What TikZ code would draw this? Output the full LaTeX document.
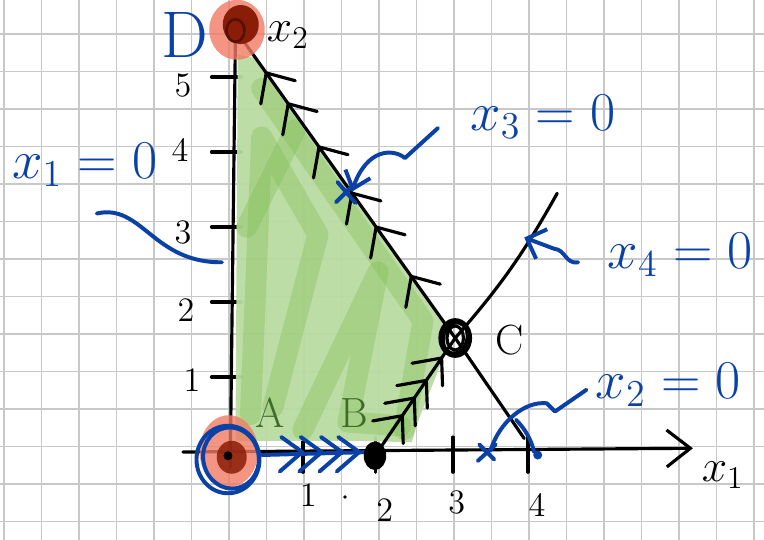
\documentclass[tikz,border=0pt]{standalone}
\usepackage{amsmath}
\usepackage{xcolor}
\definecolor{penblue}{HTML}{0A41A6}
\definecolor{gridgray}{HTML}{C8C8C8}
\definecolor{leaf}{HTML}{BADCA2}
\definecolor{leafdark}{HTML}{7DBD4F}
\definecolor{salmon}{HTML}{F27A64}
\definecolor{rust}{HTML}{8A1D07}
\definecolor{labelgreen}{HTML}{3F6B2A}
\usepackage{tikz}
\usetikzlibrary{arrows.meta,calc}

\begin{document}
\begin{tikzpicture}[>={Straight Barb[length=9pt,width=14pt]},
    pen/.style={line width=1.2pt,line cap=round,line join=round},
    bluepen/.style={pen,penblue,line width=1.5pt},
    brush/.style={leafdark,opacity=0.35,line width=8pt,line cap=round,line join=round},
    num/.style={font=\fontsize{13}{13}\selectfont},
    eqlabel/.style={penblue,font=\fontsize{21}{21}\selectfont},
    ptlabel/.style={font=\fontsize{16}{16}\selectfont}]
    % paper
    \useasboundingbox (-3.04,-1.16) rectangle (7.147,6.027);
    \clip (-3.04,-1.16) rectangle (7.147,6.027);
    \fill[white] (-3.04,-1.16) rectangle (7.147,6.027);
    \draw[gridgray,line width=0.7pt,shift={(0.013,0.073)}] (-3.5,-1.5) grid[step=0.5] (7.5,6.5);

    % corners of the region
    \coordinate (A) at (0,0);
    \coordinate (B) at (1.96,-0.05);
    \coordinate (C) at (3.03,1.52);
    \coordinate (D) at (0.1,5.63);
    \coordinate (x3end) at (3.95,0.18);
    \coordinate (x4end) at (4.39,3.45);

    % ticks
    \foreach \u in {1.0,1.97,3.0,4.0} \draw[pen] (\u,0.2) -- (\u,-0.27);
    \foreach \v in {1,...,5} \draw[pen] (-0.22,\v) -- (0.18,\v);

    % feasible region
    \fill[leaf,opacity=0.95] (0.1,0.15) -- (0.13,5.3) -- (0.38,5.25) -- (2.9,1.7) -- (2.92,1.38)
         -- (2.55,0.45) -- (2.45,0.13) -- (1.7,0.15) -- cycle;
    \draw[brush] (0.45,4.85) -- (2.6,1.75) -- (2.35,0.3);
    \draw[brush] (0.3,0.5) -- (0.45,4.2) -- (1.2,2.9) -- (0.6,0.6);
    \draw[brush] (1.0,0.3) -- (2.0,2.4) -- (1.6,0.4) -- (2.3,0.35);
    \draw[brush] (0.25,3.0) -- (0.9,4.3);

    % axes and constraint lines
    \coordinate (x1start) at (-0.6,0);
    \coordinate (x1tip) at (6.2,0.05);
    \coordinate (x2foot) at (0.03,-0.2);
    \draw[pen,->] (x1start) -- (x1tip);
    \draw[pen] (x2foot) -- (D);
    \draw[pen] (D) -- (C) -- (x3end);
    \draw[pen] (B) -- (C) to[bend right=6] (x4end);

    % direction marks
    \foreach \t in {0.14,0.24,0.38,0.53,0.64,0.8}
      \draw[pen] ($(D)!\t!(C)$) ++(-100:0.42) -- ++(80:0.42) -- ++(-15:0.4);
    \foreach \t in {0.34,0.49,0.64,0.83}
      \draw[pen] ($(B)!\t!(C)$) ++(190:0.4) -- ++(10:0.4) -- ++(272:0.37);
    \draw[bluepen] (0.45,-0.04) -- (1.9,0);
    \foreach \u in {0.99,1.25,1.52,1.75}
      \draw[bluepen] (\u,0) ++(-0.28,0.2) -- ++(0.28,-0.2) -- ++(-0.3,-0.26);

    % vertices
    \fill[salmon,opacity=0.8] (0.12,5.63) ellipse (0.37 and 0.4);
    \fill[rust] (0.17,5.7) ellipse (0.24 and 0.26);
    \draw[rust!60!black,line width=1pt] (0.1,5.62) ellipse (0.12 and 0.15);
    \fill[salmon,opacity=0.8] (0.01,0.01) ellipse (0.39 and 0.48);
    \fill[rust,opacity=0.85] (0.05,-0.07) ellipse (0.2 and 0.22);
    \fill (0.0,-0.05) circle (0.06);
    \draw[bluepen] (0.0,-0.1) ellipse (0.42 and 0.45);
    \draw[bluepen,rotate around={12:(0.04,-0.08)}] (0.04,-0.08) ellipse (0.37 and 0.41);
    \draw[pen,line width=1.4pt] (C) ellipse (0.2 and 0.24);
    \draw[pen,line width=1.4pt,rotate around={-15:(C)}] (C) ellipse (0.16 and 0.21);
    \draw[pen] (C) ellipse (0.11 and 0.16);
    \fill (B) ellipse (0.15 and 0.19);

    % axis numbers
    \node[num] (n1) at (1.07,-0.57) {1};
    \fill (1.56,-0.6) circle (0.025);
    \node[num] (n2) at (2.09,-0.77) {2};
    \node[num] (n3) at (3.05,-0.67) {3};
    \node[num] (n4) at (4.12,-0.71) {4};
    \node[num] (m1) at (-0.48,0.96) {1};
    \node[num] (m2) at (-0.56,1.89) {2};
    \node[num] (m3) at (-0.6,2.93) {3};
    \node[num] (m4) at (-0.64,4.03) {4};
    \node[num] (m5) at (-0.6,4.89) {5};
    \node[font=\fontsize{18}{18}\selectfont] (xtwo) at (0.8,5.56) {$x_2$};
    \node[font=\fontsize{18}{18}\selectfont] (xone) at (6.6,-0.31) {$x_1$};

    % vertex names
    \node[penblue,font=\fontsize{25}{25}\selectfont] (labD) at (-0.57,5.56) {D};
    \node[ptlabel] (labC) at (3.76,1.49) {C};
    \node[ptlabel,labelgreen] (labA) at (0.56,0.52) {A};
    \node[ptlabel,labelgreen] (labB) at (1.69,0.52) {B};

    % constraint labels and pointers
    \node[eqlabel] (eqone) at (-1.91,3.83) {$x_1=0$};
    \node[eqlabel] (eqthree) at (4.2,4.47) {$x_3=0$};
    \node[eqlabel] (eqfour) at (6.03,2.63) {$x_4=0$};
    \node[eqlabel] (eqtwo) at (5.87,0.89) {$x_2=0$};
    \draw[bluepen] (-1.75,3.18) .. controls (-1.15,3.32) and (-1.0,2.52) .. (-0.08,2.53);
    \draw[bluepen,->,>={Straight Barb[length=6pt,width=10pt]}] (2.8,4.32) -- (2.36,3.92)
         .. controls (2.2,4.05) and (1.85,4.05) .. (1.65,3.47);
    \draw[bluepen] (1.44,3.33) -- (1.68,3.57) (1.46,3.6) -- (1.7,3.32);
    \draw[bluepen,->,>={Straight Barb[length=6pt,width=12pt]}] (4.67,2.53)
         .. controls (4.5,2.5) and (4.5,2.7) .. (4.35,2.71) -- (3.95,2.86);
    \draw[bluepen] (4.78,0.83) -- (4.36,0.54) -- (4.25,0.65)
         .. controls (3.95,0.68) and (3.62,0.4) .. (3.5,0.02);
    \draw[bluepen] (3.84,0.43) .. controls (3.97,0.3) and (4.05,0.15) .. (4.08,0.0);
    \fill[penblue] (4.13,-0.04) circle (0.06);
    \draw[bluepen] (3.33,-0.12) -- (3.57,0.1) (3.35,0.1) -- (3.55,-0.1);
\end{tikzpicture}
\end{document}
